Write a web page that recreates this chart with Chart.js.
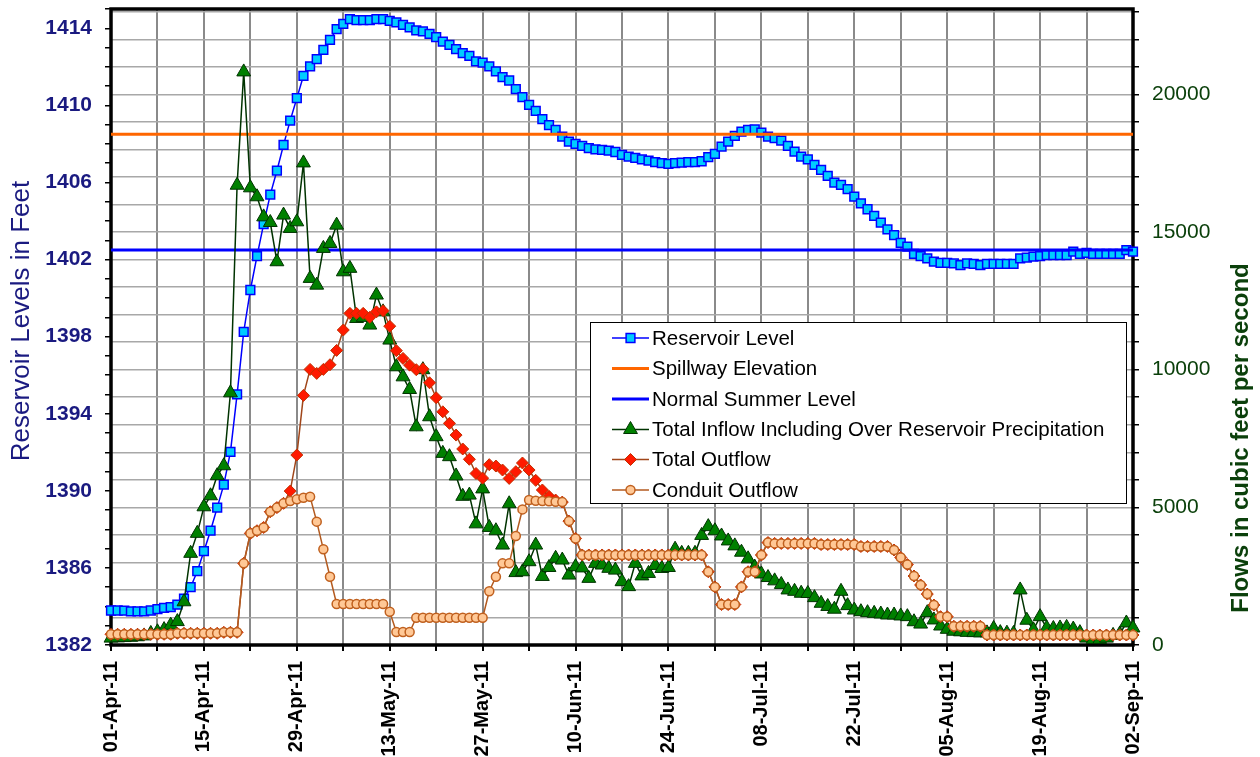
<!DOCTYPE html>
<html>
<head>
<meta charset="utf-8">
<script src="https://cdn.jsdelivr.net/npm/chart.js@4.4.1/dist/chart.umd.min.js"></script>
<style>
html,body{margin:0;padding:0;background:#fff;}
#wrap{width:1260px;height:757px;position:relative;}
</style>
</head>
<body>
<div id="wrap"><canvas id="c" width="1260" height="757"></canvas></div>
<script>
// ---------------- DATA ----------------
const startYear = 2011, startMonth = 3, startDay = 1; // 01-Apr-11
const dayCount = 155;
const tickLabels = ['01-Apr-11','15-Apr-11','29-Apr-11','13-May-11','27-May-11','10-Jun-11','24-Jun-11','08-Jul-11','22-Jul-11','05-Aug-11','19-Aug-11','02-Sep-11'];
const seriesNames = ['Reservoir Level','Spillway Elevation','Normal Summer Level','Total Inflow Including Over Reservoir Precipitation','Total Outflow','Conduit Outflow'];
const spillwayElevation = 1408.5;
const normalSummerLevel = 1402.5;
const flowAxisMax = 23100;
const flowTickStep = 1000;
const flowLabelStep = 5000;

const reservoirLevel = [
 1383.79,1383.79,1383.78,1383.74,1383.74,1383.74,1383.79,1383.86,1383.93,1383.96,
 1384.09,1384.40,1385.00,1385.83,1386.87,1387.93,1389.13,1390.32,1392.02,1395.00,
 1398.25,1400.42,1402.18,1403.84,1405.37,1406.61,1407.95,1409.21,1410.37,1411.53,
 1412.02,1412.40,1412.88,1413.40,1413.96,1414.23,1414.48,1414.42,1414.42,1414.42,
 1414.48,1414.48,1414.38,1414.30,1414.18,1414.05,1413.89,1413.84,1413.71,1413.54,
 1413.31,1413.14,1412.92,1412.71,1412.57,1412.28,1412.22,1412.02,1411.76,1411.47,
 1411.29,1410.84,1410.43,1410.03,1409.71,1409.28,1408.97,1408.73,1408.38,1408.12,
 1408.00,1407.90,1407.78,1407.72,1407.69,1407.65,1407.58,1407.43,1407.34,1407.27,
 1407.20,1407.13,1407.06,1407.00,1406.96,1407.00,1407.03,1407.06,1407.05,1407.10,
 1407.31,1407.48,1407.86,1408.12,1408.42,1408.64,1408.73,1408.76,1408.59,1408.38,
 1408.30,1408.17,1407.90,1407.60,1407.34,1407.20,1406.91,1406.65,1406.34,1405.99,
 1405.87,1405.65,1405.26,1404.92,1404.61,1404.26,1403.91,1403.57,1403.27,1402.87,
 1402.67,1402.29,1402.18,1402.06,1401.89,1401.83,1401.83,1401.80,1401.71,1401.80,
 1401.78,1401.71,1401.78,1401.78,1401.78,1401.78,1401.78,1402.06,1402.10,1402.15,
 1402.18,1402.23,1402.23,1402.23,1402.23,1402.41,1402.29,1402.35,1402.29,1402.29,
 1402.29,1402.29,1402.29,1402.49,1402.41
];

const totalInflow = [
 250,260,270,280,300,330,420,480,560,720,
 850,1570,3330,4055,5020,5420,6150,6510,9160,16700,
 20815,16605,16280,15550,15345,13920,15615,15130,15370,17510,
 13315,13070,14405,14585,15250,13555,13680,11860,11900,11620,
 12710,12100,11075,10105,9740,9280,7925,10000,8290,7565,
 6960,6840,6140,5400,5445,4400,5670,4270,4150,3630,
 5130,2630,2660,3025,3630,2490,2815,3150,3085,2540,
 2845,2800,2420,2965,2905,2785,2720,2300,2120,2965,
 2510,2600,2890,2780,2815,3480,3330,3330,3330,3980,
 4300,4150,3960,3780,3600,3370,3130,2830,2580,2450,
 2330,2200,2000,1950,1880,1870,1720,1515,1400,1300,
 1950,1430,1270,1210,1175,1150,1125,1090,1090,1055,
 1030,845,760,1175,910,690,570,500,480,460,
 450,440,440,600,450,430,420,2000,900,550,
 1030,620,600,620,640,580,450,250,200,200,
 250,350,400,800,620
];

const totalOutflow = [
 390,390,390,390,390,390,390,390,390,390,
 425,425,425,425,425,425,425,460,460,460,
 2965,4055,4150,4270,4840,4990,5145,5590,6900,9065,
 10010,9865,10010,10180,10700,11440,12045,12045,12045,11900,
 12100,12140,11580,10690,10410,10165,10000,10030,9525,8980,
 8470,8050,7625,7120,6745,6230,6060,6550,6500,6355,
 6050,6295,6610,6355,5980,5630,5400,5265,5190,4500,
 3870,3270,3270,3270,3270,3270,3270,3270,3270,3270,
 3270,3270,3270,3270,3270,3270,3270,3270,3270,3270,
 2660,2110,1470,1470,1470,2110,2660,2660,3270,3720,
 3690,3690,3690,3690,3690,3690,3690,3650,3650,3650,
 3650,3650,3650,3580,3580,3580,3580,3580,3450,3180,
 2920,2505,2180,1850,1450,1030,1030,680,680,680,
 680,680,363,363,363,363,363,363,363,363,
 363,363,363,363,363,363,363,363,363,363,
 363,363,363,363,363
];

const conduitOutflow = [
 390,390,390,390,390,390,390,390,390,390,
 425,425,425,425,425,425,425,460,460,460,
 2965,4055,4150,4270,4840,4990,5145,5230,5290,5350,
 5385,4480,3475,2480,1490,1490,1490,1490,1490,1490,
 1490,1490,1210,470,470,470,990,990,990,990,
 990,990,990,990,990,990,990,1950,2480,2965,
 2965,3960,4925,5265,5240,5230,5220,5200,5190,4500,
 3870,3270,3270,3270,3270,3270,3270,3270,3270,3270,
 3270,3270,3270,3270,3270,3270,3270,3270,3270,3270,
 2660,2110,1470,1470,1470,2110,2660,2660,3270,3720,
 3690,3690,3690,3690,3690,3690,3690,3650,3650,3650,
 3650,3650,3650,3580,3580,3580,3580,3580,3450,3180,
 2920,2505,2180,1850,1450,1030,1030,680,680,680,
 680,680,363,363,363,363,363,363,363,363,
 363,363,363,363,363,363,363,363,363,363,
 363,363,363,363,363
];

// daily category labels
const monthNames = ['Jan','Feb','Mar','Apr','May','Jun','Jul','Aug','Sep','Oct','Nov','Dec'];
const dayLabels = [];
for (let i = 0; i < dayCount; i++) {
  const d = new Date(Date.UTC(startYear, startMonth, startDay + i));
  dayLabels.push(String(d.getUTCDate()).padStart(2,'0') + '-' + monthNames[d.getUTCMonth()] + '-' + String(d.getUTCFullYear()).slice(2));
}

// ---------------- STYLE ----------------
const FONT = "'Liberation Sans', Arial, Helvetica, sans-serif";

const overlayPlugin = {
  id: 'overlay',
  beforeDatasetsDraw(chart) {
    const {ctx, chartArea: a} = chart;
    ctx.save();
    ctx.strokeStyle = '#000';
    ctx.lineWidth = 3.5;
    ctx.strokeRect(a.left, a.top, a.right - a.left, a.bottom - a.top);
    ctx.restore();
  },
  afterDatasetsDraw(chart) {
    const ctx = chart.ctx;
    const box = {x: 590.5, y: 322.5, w: 536, h: 181};
    const rows = [338, 368.5, 399, 429.5, 459.5, 490];
    ctx.save();
    ctx.fillStyle = '#fff';
    ctx.fillRect(box.x, box.y, box.w, box.h);
    ctx.strokeStyle = '#000';
    ctx.lineWidth = 1;
    ctx.strokeRect(box.x, box.y, box.w, box.h);
    chart.data.datasets.forEach((ds, i) => {
      const y = rows[i];
      ctx.strokeStyle = ds.borderColor;
      ctx.lineWidth = ds.borderWidth;
      ctx.beginPath();
      ctx.moveTo(612, y);
      ctx.lineTo(649, y);
      ctx.stroke();
      if (ds.pointRadius > 0) {
        ctx.fillStyle = ds.pointBackgroundColor;
        ctx.strokeStyle = ds.pointBorderColor;
        ctx.lineWidth = ds.pointBorderWidth;
        Chart.helpers.drawPoint(ctx, {pointStyle: ds.pointStyle, radius: ds.pointRadius, borderWidth: ds.pointBorderWidth, rotation: 0}, 630.5, y);
      }
      ctx.fillStyle = '#000';
      ctx.font = '20.5px ' + FONT;
      ctx.textAlign = 'left';
      ctx.textBaseline = 'middle';
      ctx.fillText(ds.label, 652, y + 1);
    });
    ctx.restore();
  },
  afterDraw(chart) {
    const ctx = chart.ctx;
    ctx.save();
    ctx.textAlign = 'center';
    ctx.textBaseline = 'middle';
    ctx.translate(22, 321);
    ctx.rotate(-Math.PI / 2);
    ctx.fillStyle = '#1a1a80';
    ctx.font = '26px ' + FONT;
    ctx.fillText('Reservoir Levels in Feet', 0, 0);
    ctx.restore();
    ctx.save();
    ctx.textAlign = 'center';
    ctx.textBaseline = 'middle';
    ctx.translate(1241, 438);
    ctx.rotate(-Math.PI / 2);
    ctx.fillStyle = '#0b400b';
    ctx.font = 'bold 24px ' + FONT;
    ctx.fillText('Flows in cubic feet per second', 0, 0);
    ctx.restore();
  }
};

const ctx = document.getElementById('c').getContext('2d');
new Chart(ctx, {
  type: 'line',
  data: {
    labels: dayLabels,
    datasets: [
      {label: seriesNames[0], data: reservoirLevel, yAxisID: 'y', borderColor: '#0000FF', borderWidth: 1.5,
       pointStyle: 'rect', pointRadius: 6.2, pointBackgroundColor: '#00CCFF', pointBorderColor: '#0000FF', pointBorderWidth: 1.5, order: 6},
      {label: seriesNames[1], data: [{x: dayLabels[0], y: spillwayElevation}, {x: dayLabels[dayCount - 1], y: spillwayElevation}],
       yAxisID: 'y', borderColor: '#FF6600', borderWidth: 3, pointRadius: 0, order: 5},
      {label: seriesNames[2], data: [{x: dayLabels[0], y: normalSummerLevel}, {x: dayLabels[dayCount - 1], y: normalSummerLevel}],
       yAxisID: 'y', borderColor: '#0000FF', borderWidth: 3, pointRadius: 0, order: 4},
      {label: seriesNames[3], data: totalInflow, yAxisID: 'y1', borderColor: '#003300', borderWidth: 1.5,
       pointStyle: 'triangle', pointRadius: 8, pointBackgroundColor: '#008000', pointBorderColor: '#003300', pointBorderWidth: 1, order: 3},
      {label: seriesNames[4], data: totalOutflow, yAxisID: 'y1', borderColor: '#A0461A', borderWidth: 1.5,
       pointStyle: 'rectRot', pointRadius: 6, pointBackgroundColor: '#FF1A00', pointBorderColor: '#C03000', pointBorderWidth: 1, order: 2},
      {label: seriesNames[5], data: conduitOutflow, yAxisID: 'y1', borderColor: '#B35A1F', borderWidth: 1.5,
       pointStyle: 'circle', pointRadius: 4.5, pointBackgroundColor: '#FFC896', pointBorderColor: '#C0601E', pointBorderWidth: 1.5, order: 1}
    ]
  },
  options: {
    responsive: false,
    animation: false,
    events: [],
    layout: {padding: {top: 9, left: 0, right: 0, bottom: 0}},
    plugins: {legend: {display: false}, tooltip: {enabled: false}},
    elements: {line: {tension: 0}},
    scales: {
      x: {
        type: 'category',
        offset: false,
        border: {display: false},
        grid: {
          drawOnChartArea: true,
          color: c => (c.index % 7 === 0 ? '#8a8a8a' : 'rgba(0,0,0,0)'),
          tickColor: c => (c.index % 7 === 0 ? '#000' : 'rgba(0,0,0,0)'),
          lineWidth: 2,
          tickLength: 6
        },
        ticks: {
          autoSkip: false, minRotation: 90, maxRotation: 90, padding: 10,
          color: '#000', font: {family: FONT, size: 20, weight: 'bold'},
          callback: (v, i) => (i % 14 === 0 ? tickLabels[i / 14] : '')
        },
        afterFit: s => { s.height = 112; s.paddingLeft = 0; s.paddingRight = 0; }
      },
      y: {
        position: 'left', min: 1382, max: 1415,
        border: {display: false},
        grid: {drawOnChartArea: false, color: '#000', tickLength: 6, lineWidth: 1.5},
        ticks: {
          autoSkip: false,
          stepSize: 1, padding: 13, color: '#1a1a80', font: {family: FONT, size: 21, weight: 'bold'},
          callback: v => ((Math.round(v) - 1382) % 4 === 0 ? String(Math.round(v)) : '')
        },
        afterFit: s => { s.width = 111; s.paddingTop = 0; s.paddingBottom = 0; }
      },
      y1: {
        position: 'right', min: 0, max: flowAxisMax,
        border: {display: false},
        grid: {drawOnChartArea: true, color: '#a8a8a8', lineWidth: 1.5, tickColor: '#000', tickLength: 6},
        ticks: {
          autoSkip: false,
          padding: 13, color: '#0b400b', font: {family: FONT, size: 21},
          callback: v => (Math.round(v) % flowLabelStep === 0 ? String(Math.round(v)) : '')
        },
        afterBuildTicks: s => {
          const t = [];
          for (let v = 0; v <= flowAxisMax; v += flowTickStep) t.push({value: v});
          s.ticks = t;
        },
        afterFit: s => { s.width = 127; s.paddingTop = 0; s.paddingBottom = 0; }
      }
    }
  },
  plugins: [overlayPlugin]
});
</script>
</body>
</html>
